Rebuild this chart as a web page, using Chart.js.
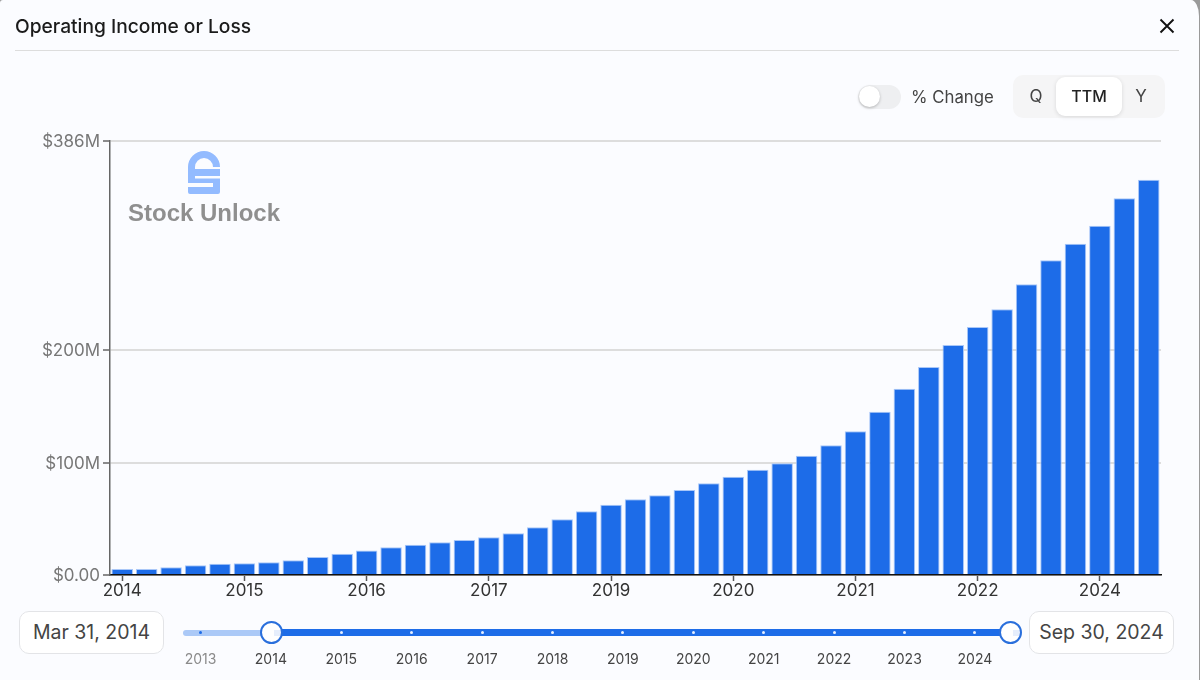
<!DOCTYPE html>
<html>
<head>
<meta charset="utf-8">
<script src="https://cdn.jsdelivr.net/npm/chart.js@4"></script>
<style>
  html, body { margin: 0; height: 100%; background: #9a9a9a; overflow: hidden; }
  body { font-family: Inter, sans-serif; color: #222; }
  #card { position: absolute; left: 0; top: 0; width: 1199px; height: 680px; background: #fbfcff; border-top-right-radius: 8px 16px; border-top-left-radius: 3px; }
  #chart { position: absolute; left: 0; top: 0; width: 1200px; height: 680px; }
  .abs { position: absolute; white-space: nowrap; }
  #title { left: 15px; top: 15px; font-size: 19.2px; font-weight: 500; line-height: 23px; color: #1b1b1b; }
  #rule { left: 15px; top: 50px; width: 1164px; height: 1px; background: #ddd; }
  #toggle { left: 858px; top: 85px; width: 43px; height: 24px; border-radius: 12px; background: #eeeff1; }
  #toggle i { position: absolute; left: 1px; top: 1px; width: 21px; height: 21px; border-radius: 50%; background: #fff; box-shadow: 0 1px 3px rgba(0,0,0,.25); }
  #pct { left: 911px; top: 87px; font-size: 16.8px; line-height: 21px; color: #444; }
  #period { left: 1013px; top: 75px; width: 152px; height: 43px; border-radius: 10px; background: #f5f5f6; }
  #period span { position: absolute; top: 2px; height: 39px; line-height: 38px; text-align: center; font-size: 17px; color: #444; }
  #period .on { left: 43px; width: 66px; font-size: 16px; font-weight: 500; background: #fff; border-radius: 9px; box-shadow: 0 1px 4px rgba(0,0,0,.12); color: #222; }
  .date { top: 611px; height: 41px; line-height: 41px; text-align: center; border: 1px solid #e3e4e7; border-radius: 10px; background: #fff; font-size: 19.5px; color: #444; }
  #track0 { left: 183px; top: 630px; width: 88px; height: 6px; border-radius: 3px; background: #abc9f7; }
  #track1 { left: 271px; top: 629px; width: 739px; height: 7px; background: #1d6ce8; }
  .knob { top: 621px; width: 19px; height: 19px; border: 2px solid #2a6fdc; border-radius: 50%; background: #fff linear-gradient(#e6eefc, #e6eefc) no-repeat 12px 7px / 7px 6px; }
  .dot { top: 631px; width: 3px; height: 3px; border-radius: 50%; background: #e6efff; }
  .yr { top: 650px; width: 60px; text-align: center; font-size: 14px; line-height: 17px; color: #444; }
  #brand { left: 128px; top: 199px; font: bold 24px "Liberation Sans", sans-serif; line-height: 28px; color: #8f8f8f; }
</style>
</head>
<body>
<div id="card"></div>
<canvas id="chart" width="1200" height="680"></canvas>

<div class="abs" id="title">Operating Income or Loss</div>
<svg class="abs" style="left:1158px;top:17px" width="18" height="18" viewBox="0 0 18 18"><path d="M2.5 2.5 L15.5 15.5 M15.5 2.5 L2.5 15.5" stroke="#111" stroke-width="1.9" fill="none"/></svg>
<div class="abs" id="rule"></div>
<div class="abs" id="toggle"><i></i></div>
<div class="abs" id="pct">% Change</div>
<div class="abs" id="period">
  <span style="left:0;width:46px">Q</span>
  <span class="on">TTM</span>
  <span style="left:110px;width:36px">Y</span>
</div>

<svg class="abs" style="left:188px;top:151px" width="32" height="43" viewBox="0 0 32 43">
  <path d="M0 16 A16 16 0 0 1 32 16 H25 A9 9 0 0 0 7 16 V18 H32 V25 H7 V27.5 H32 V41 Q32 43 30 43 H2 Q0 43 0 41 V36 H25 V32 H0 Z" fill="#93bbff"/>
</svg>
<div class="abs" id="brand">Stock Unlock</div>

<div class="abs date" style="left:19px;width:143px">Mar 31, 2014</div>
<div class="abs date" style="left:1029px;width:143px">Sep 30, 2024</div>
<div class="abs" id="track0"></div>
<div class="abs" id="track1"></div>
<div id="years"></div>
<div class="abs knob" style="left:260px"></div>
<div class="abs knob" style="left:999px"></div>

<script>
const quarters = [
  "Mar 2014", "Jun 2014", "Sep 2014", "Dec 2014",
  "Mar 2015", "Jun 2015", "Sep 2015", "Dec 2015",
  "Mar 2016", "Jun 2016", "Sep 2016", "Dec 2016",
  "Mar 2017", "Jun 2017", "Sep 2017", "Dec 2017",
  "Mar 2018", "Jun 2018", "Sep 2018", "Dec 2018",
  "Mar 2019", "Jun 2019", "Sep 2019", "Dec 2019",
  "Mar 2020", "Jun 2020", "Sep 2020", "Dec 2020",
  "Mar 2021", "Jun 2021", "Sep 2021", "Dec 2021",
  "Mar 2022", "Jun 2022", "Sep 2022", "Dec 2022",
  "Mar 2023", "Jun 2023", "Sep 2023", "Dec 2023",
  "Mar 2024", "Jun 2024", "Sep 2024",
];
const operatingIncome = [
  5.3, 5.3, 6.8, 8.6,
  10.0, 10.4, 11.3, 13.1,
  16.0, 18.9, 21.8, 24.6,
  26.9, 29.1, 31.1, 33.5,
  37.1, 42.4, 49.5, 56.6,
  62.5, 67.3, 70.9, 75.6,
  81.5, 87.4, 93.6, 99.3,
  106.1, 115.3, 127.8, 145.2,
  165.7, 185.0, 204.5, 220.5,
  236.3, 258.5, 279.9, 294.6,
  310.6, 335.0, 351.6,
];
const yTicks = [0, 100, 200, 386];
const yTickLabels = ["$0.00", "$100M", "$200M", "$386M"];
const sliderYears = ["2013", "2014", "2015", "2016", "2017", "2018", "2019", "2020", "2021", "2022", "2023", "2024"];
const X_TICK_EVERY = 5;

// range slider under the chart, not part of the Chart.js canvas
const yearsEl = document.getElementById("years");
sliderYears.forEach((year, i) => {
  const x = 200.5 + i * 70.4;
  const dot = document.createElement("div");
  dot.className = "abs dot";
  dot.style.left = x - 1.5 + "px";
  if (i === 0) dot.style.background = "#1d6ce8";
  yearsEl.appendChild(dot);
  const label = document.createElement("div");
  label.className = "abs yr";
  label.style.left = x - 30 + "px";
  if (i === 0) label.style.color = "#8a8a8a";
  label.textContent = year;
  yearsEl.appendChild(label);
});

new Chart(document.getElementById("chart"), {
  type: "bar",
  data: {
    labels: quarters,
    datasets: [{
      label: "Operating Income or Loss",
      data: operatingIncome,
      backgroundColor: "#1d6ce8",
      borderColor: "#a9c7f8",
      borderWidth: 1,
      categoryPercentage: 1,
      barPercentage: 0.88,
    }],
  },
  options: {
    responsive: false,
    animation: false,
    devicePixelRatio: 1,
    layout: { padding: { left: 0, right: 39, top: 141, bottom: 0 } },
    plugins: { legend: { display: false }, tooltip: { enabled: false } },
    scales: {
      x: {
        afterFit: (scale) => { scale.height = 105; },
        afterBuildTicks: (scale) => {
          scale.ticks = scale.ticks.filter((tick) => tick.value % X_TICK_EVERY === 0);
        },
        border: { color: "#111", width: 1.5 },
        grid: { offset: false, drawOnChartArea: false, tickLength: 6, tickColor: "#555", tickWidth: 1.5 },
        ticks: {
          autoSkip: false,
          maxRotation: 0,
          padding: 0,
          color: "#333",
          font: { family: "Inter", size: 17 },
          callback: (value) => quarters[value].split(" ")[1],
        },
      },
      y: {
        min: 0,
        max: 386,
        afterFit: (scale) => { scale.width = 110; },
        afterBuildTicks: (scale) => {
          scale.ticks = yTicks.map((value) => ({ value }));
        },
        border: { color: "#666", width: 1.5 },
        grid: { color: "#dddddd", lineWidth: 2, tickLength: 7, tickColor: "#666", tickWidth: 1.5 },
        ticks: {
          padding: 3,
          labelOffset: 1,
          color: "#777",
          font: { family: "Inter", size: 17 },
          callback: (value) => yTickLabels[yTicks.indexOf(value)],
        },
      },
    },
  },
});
</script>
</body>
</html>
